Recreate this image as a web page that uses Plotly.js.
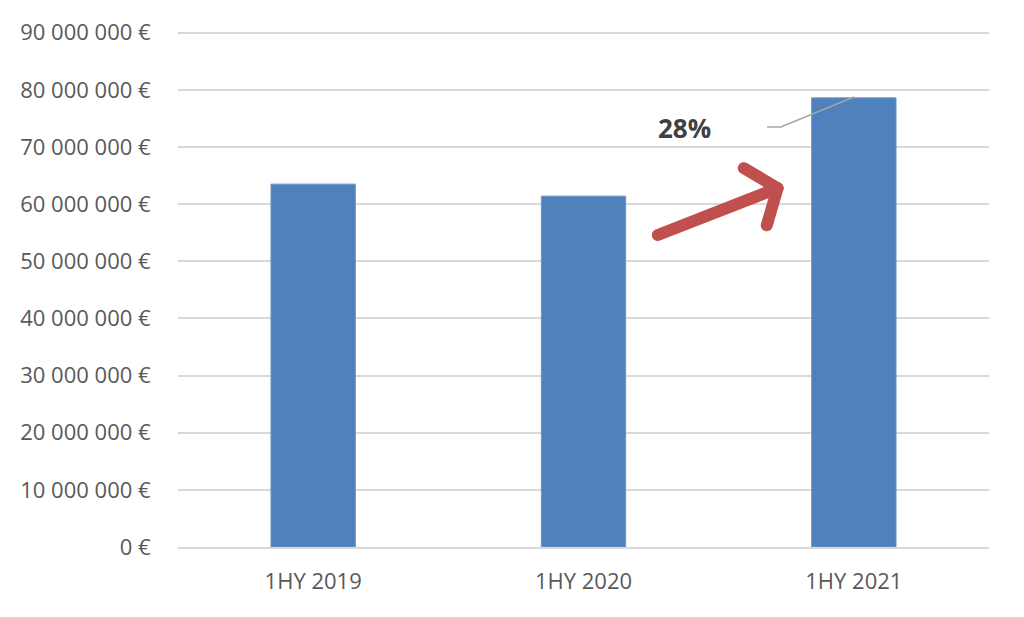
<!DOCTYPE html>
<html>
<head>
<meta charset="utf-8">
<script src="https://cdn.plot.ly/plotly-3.0.1.min.js"></script>
<style>
html,body{margin:0;padding:0;background:#fff;}
#chart{width:1024px;height:617px;}
.shapelayer path{stroke-linecap:round;stroke-linejoin:round;}
</style>
</head>
<body>
<div id="chart"></div>
<script>
const categories = ["1HY 2019", "1HY 2020", "1HY 2021"];
const revenue = [63500000, 61400000, 78600000];
const growthLabel = "28%";
const yTicks = [0, 10000000, 20000000, 30000000, 40000000, 50000000, 60000000, 70000000, 80000000, 90000000];
const yTickText = yTicks.map(v => String(v).replace(/\B(?=(\d{3})+(?!\d))/g, " ") + " \u20AC");

const trace = {
  type: "bar",
  x: [0, 1, 2],
  y: revenue,
  marker: {color: "#4F81BD", line: {color: "#6A95C8", width: 1}},
  hoverinfo: "skip"
};

const layout = {
  width: 1024, height: 617,
  margin: {l: 178, r: 35, t: 31, b: 70},
  paper_bgcolor: "#fff", plot_bgcolor: "#fff",
  showlegend: false,
  bargap: 0.688,
  font: {family: "Open Sans, sans-serif", color: "#595959", size: 22},
  xaxis: {
    range: [-0.5, 2.5],
    tickvals: [0, 1, 2],
    ticktext: categories,
    showgrid: false, zeroline: false,
    showline: true, linecolor: "#d9d9d9", linewidth: 2,
    ticks: "outside", ticklen: 14, tickcolor: "rgba(0,0,0,0)",
    tickfont: {size: 22, color: "#595959"}
  },
  yaxis: {
    range: [0, 90300000],
    tickvals: yTicks,
    ticktext: yTickText,
    showgrid: true, gridcolor: "#d9d9d9", gridwidth: 2,
    zeroline: false, showline: false,
    ticks: "outside", ticklen: 22, tickcolor: "rgba(0,0,0,0)",
    tickfont: {size: 22, color: "#595959"}
  },
  shapes: [
    {type: "line", xref: "x", yref: "y", x0: 1.275, y0: 54600000, x1: 1.718, y1: 62800000,
     line: {color: "#C0504D", width: 12}, layer: "above"},
    {type: "path", xref: "x", yref: "y",
     path: "M 1.593,66300000 L 1.718,62800000 L 1.678,56300000",
     line: {color: "#C0504D", width: 12}, layer: "above"},
    {type: "path", xref: "x", yref: "y",
     path: "M 1.681,73500000 L 1.730,73500000 L 2.0,78750000",
     line: {color: "#A6A6A6", width: 1.5}, layer: "above"}
  ],
  annotations: [
    {xref: "x", yref: "y", x: 1.375, y: 73300000, text: "<b>" + growthLabel + "</b>",
     showarrow: false, font: {family: "Open Sans, sans-serif", size: 26, color: "#404040"}}
  ]
};

Plotly.newPlot("chart", [trace], layout, {displayModeBar: false, staticPlot: true});
</script>
</body>
</html>
